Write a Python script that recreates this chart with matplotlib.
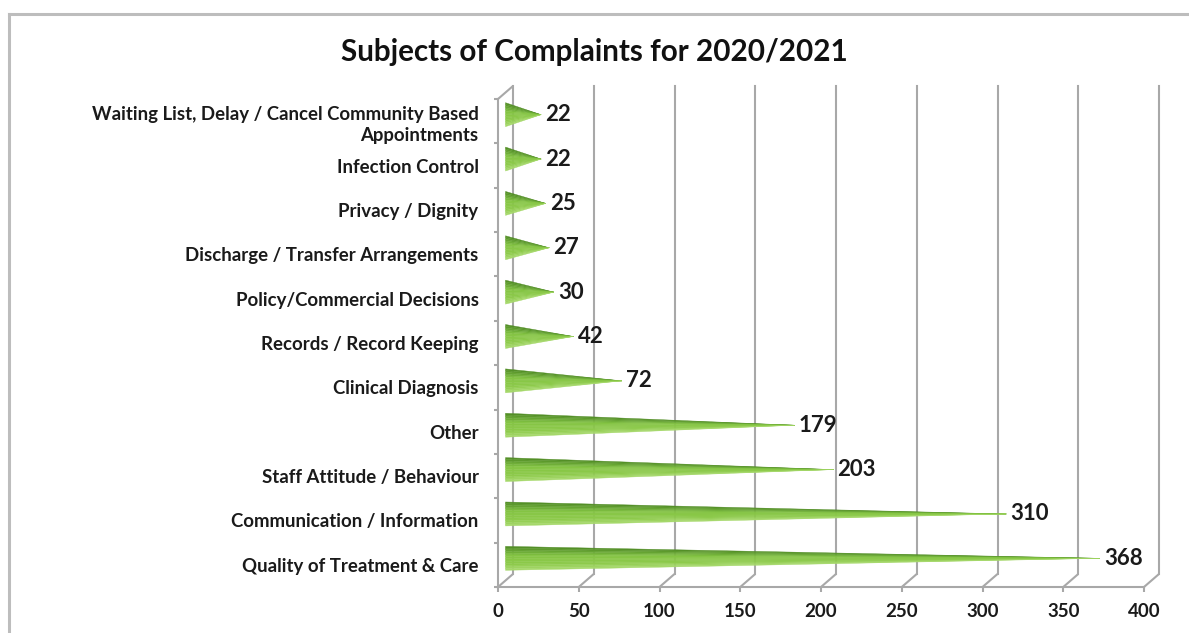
import numpy as np
import matplotlib.pyplot as plt
from matplotlib.colors import to_rgb
from matplotlib.lines import Line2D
from matplotlib.patches import Polygon
from matplotlib.transforms import IdentityTransform, offset_copy

categories = [
    "Waiting List, Delay / Cancel Community Based\nAppointments",
    "Infection Control",
    "Privacy / Dignity",
    "Discharge / Transfer Arrangements",
    "Policy/Commercial Decisions",
    "Records / Record Keeping",
    "Clinical Diagnosis",
    "Other",
    "Staff Attitude / Behaviour",
    "Communication / Information",
    "Quality of Treatment & Care",
]
complaints = [22, 22, 25, 27, 30, 42, 72, 179, 203, 310, 368]
x_ticks = [0, 50, 100, 150, 200, 250, 300, 350, 400]
title = "Subjects of Complaints for 2020/2021"

FONT = "Lato"
GRID = "#a8a8a8"
DEPTH_X, DEPTH_Y = 15, 13  # pixel offset of the back wall

plt.rcParams["font.family"] = [FONT, "DejaVu Sans"]

W, H, DPI = 1189, 633, 100
fig = plt.figure(figsize=(W / DPI, H / DPI), dpi=DPI)
fig.patch.set_facecolor("white")

# front plane of the pseudo-3d box, in pixels
left_px, right_px, top_px, bottom_px = 498, 1144, 99, 587
ax = fig.add_axes([left_px / W, 1 - bottom_px / H,
                   (right_px - left_px) / W, (bottom_px - top_px) / H])
n = len(categories)
ax.set_xlim(0, 400)
ax.set_ylim(n, 0)
ax.patch.set_visible(False)

for side in ("top", "right"):
    ax.spines[side].set_visible(False)
for side in ("left", "bottom"):
    ax.spines[side].set_color(GRID)
    ax.spines[side].set_linewidth(1.5)

centers = [i + 0.5 for i in range(n)]
ax.set_yticks(centers)
ax.set_yticklabels(categories, fontsize=13.4, fontweight="bold", color="#1a1a1a",
                   linespacing=1.3)
for lab in ax.get_yticklabels():
    lab.set_multialignment("right")
ax.set_yticks(range(n + 1), minor=True)
ax.tick_params(axis="y", which="major", length=0, pad=14)
ax.tick_params(axis="y", which="minor", length=3.2, width=1.5, color=GRID)

ax.set_xticks(x_ticks)
ax.set_xticklabels([str(t) for t in x_ticks], fontsize=13.5, fontweight="bold",
                   color="#1a1a1a")
ax.tick_params(axis="x", length=3.6, width=1.5, color=GRID, pad=8)

fig.canvas.draw()
back = offset_copy(ax.transData, fig=fig, x=DEPTH_X, y=DEPTH_Y, units="dots")
mid = offset_copy(ax.transData, fig=fig, x=DEPTH_X / 2, y=DEPTH_Y / 2, units="dots")


def px(x, y, dx=0, dy=0):
    X, Y = ax.transData.transform((x, y))
    return X + dx, Y + dy


def seg(p, q):
    fig.add_artist(Line2D([p[0], q[0]], [p[1], q[1]], transform=IdentityTransform(),
                          color=GRID, lw=1.5, solid_capstyle="butt"))


# back wall gridlines and floor diagonals
for t in x_ticks:
    ax.plot([t, t], [0, n], transform=back, color=GRID, lw=1.5, clip_on=False, zorder=1)
    seg(px(t, n), px(t, n, DEPTH_X, DEPTH_Y))
seg(px(0, 0), px(0, 0, DEPTH_X, DEPTH_Y))

# shading across the cone, top edge to bottom edge
shade_stops = [(0.0, "#4e8a24"), (0.22, "#6aa935"), (0.38, "#84c443"),
               (0.75, "#8dca4b"), (1.0, "#a9da6f")]


def shade(f):
    pos = [s[0] for s in shade_stops]
    rgb = np.array([to_rgb(s[1]) for s in shade_stops])
    return tuple(np.interp(f, pos, rgb[:, k]) for k in range(3))


# cone bars
half = 0.27
slices = 14
for c, v in zip(centers, complaints):
    for k in range(slices):
        y0 = c - half + 2 * half * k / slices
        y1 = c - half + 2 * half * (k + 1) / slices
        p = Polygon([(0, y0), (v, c), (0, y1)], closed=True,
                    facecolor=shade((k + 0.5) / slices), edgecolor=shade((k + 0.5) / slices),
                    lw=0.3, transform=mid, zorder=3)
        p.set_clip_on(False)
        ax.add_patch(p)
    ax.annotate(str(v), (v, c), xycoords=mid, xytext=(3, 0), textcoords="offset points",
                ha="left", va="center", fontsize=16, fontweight="bold",
                color="#1a1a1a", annotation_clip=False, zorder=5)

fig.text(0.5, 1 - 52 / H, title, ha="center", va="center", fontsize=21.3,
         fontweight="bold", color="#111111")

# outer frame
fig.add_artist(Line2D([9, W], [H - 14, H - 14], transform=IdentityTransform(),
                      color="#bdbdbd", lw=2.2))
fig.add_artist(Line2D([9, 9], [0, H - 14], transform=IdentityTransform(),
                      color="#bdbdbd", lw=2.2))

fig.savefig("out.png", dpi=DPI, facecolor="white")
